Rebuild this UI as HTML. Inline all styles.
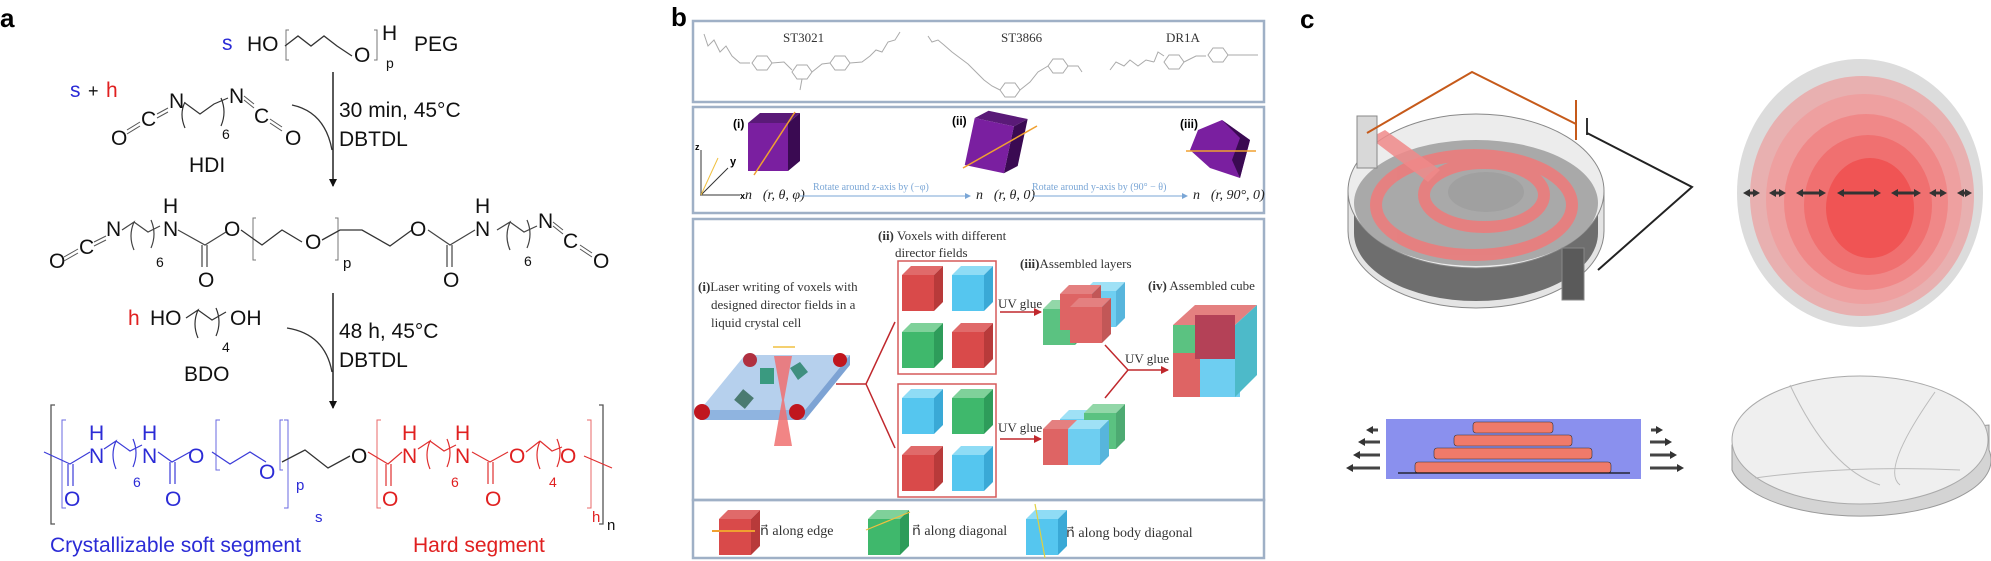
<!DOCTYPE html>
<html><head><meta charset="utf-8"><style>
html,body{margin:0;padding:0;background:#fff;}
svg{display:block;}
text{font-family:"Liberation Sans",sans-serif;}
.sf{font-family:"Liberation Serif",serif;}
</style></head><body>
<svg width="1991" height="561" viewBox="0 0 1991 561" xmlns="http://www.w3.org/2000/svg">
<defs>
<g id="cR"><polygon points="0,9 9,0 41,0 32,9" fill="#e06a6a"/><polygon points="32,9 41,0 41,36 32,45" fill="#b83a3a"/><rect x="0" y="9" width="32" height="36" fill="#d94a4a"/></g>
<g id="cB"><polygon points="0,9 9,0 41,0 32,9" fill="#8fdcf5"/><polygon points="32,9 41,0 41,36 32,45" fill="#3aa9d6"/><rect x="0" y="9" width="32" height="36" fill="#55c6ef"/></g>
<g id="cG"><polygon points="0,9 9,0 41,0 32,9" fill="#7fd19a"/><polygon points="32,9 41,0 41,36 32,45" fill="#2e9c5a"/><rect x="0" y="9" width="32" height="36" fill="#3fb86c"/></g>
<g id="cP"><polygon points="0,10 12,0 52,0 40,10" fill="#5a1a78"/><polygon points="40,10 52,0 52,48 40,58" fill="#3a0a52"/><rect x="0" y="10" width="40" height="48" fill="#7a1fa0"/></g>
<marker id="ah" markerWidth="8" markerHeight="8" refX="7" refY="4" orient="auto" markerUnits="userSpaceOnUse"><path d="M0,0 L8,4 L0,8 Z" fill="#111"/></marker>
<marker id="ahr" markerWidth="8" markerHeight="8" refX="7" refY="4" orient="auto" markerUnits="userSpaceOnUse"><path d="M0,0 L8,4 L0,8 Z" fill="#c0282d"/></marker>
<marker id="ahb" markerWidth="6" markerHeight="6" refX="5" refY="3" orient="auto" markerUnits="userSpaceOnUse"><path d="M0,0 L6,3 L0,6 Z" fill="#7aa6d6"/></marker>
<marker id="ahg" markerWidth="7" markerHeight="8" refX="3" refY="4" orient="auto-start-reverse" markerUnits="userSpaceOnUse"><path d="M0,0 L7,4 L0,8 Z" fill="#333"/></marker>
</defs>

<!-- ================= PANEL A ================= -->
<text x="0" y="27" font-size="26" font-weight="bold">a</text>
<g font-size="21" fill="#111">
<text x="222" y="50" fill="#2b2bd6">s</text>
<text x="247" y="51">HO</text>
<path d="M289,30 h-3 v30 h3 M374,30 h3 v30 h-3" stroke="#777" fill="none"/>
<polyline points="285,46 298,36 311,46 324,36 337,46 352,56" stroke="#333" fill="none" stroke-width="1.3"/>
<text x="354" y="62">O</text>
<text x="382" y="40">H</text>
<text x="386" y="68" font-size="14">p</text>
<text x="414" y="51">PEG</text>

<text x="70" y="97" fill="#2b2bd6">s</text><text x="88" y="97" font-size="18">+</text><text x="106" y="97" fill="#e02020">h</text>
<text x="111" y="145">O</text><text x="141" y="126">C</text><text x="169" y="108">N</text>
<text x="229" y="103">N</text><text x="254" y="123">C</text><text x="285" y="145">O</text>
<text x="222" y="139" font-size="14">6</text>
<path d="M127,134 l13,-8 M127,130 l13,-8 M157,118 l11,-6 M157,114 l11,-6 M244,100 l10,8 M244,96 l10,8 M270,123 l12,8 M270,119 l12,8" stroke="#555" fill="none"/>
<path d="M185,102 q-6,12 0,26 M221,98 q6,14 0,28 M185,103 L200,114 L214,104 L228,98" stroke="#333" fill="none" stroke-width="1.2"/>
<text x="189" y="172">HDI</text>
<path d="M292,105 Q325,112 332,150" stroke="#333" fill="none" stroke-width="1.3"/>
<line x1="333" y1="72" x2="333" y2="186" stroke="#222" stroke-width="1.5" marker-end="url(#ah)"/>
<text x="339" y="117">30 min, 45°C</text>
<text x="339" y="146">DBTDL</text>

<text x="49" y="268">O</text><text x="79" y="254">C</text><text x="106" y="236">N</text>
<text x="163" y="213">H</text><text x="163" y="236">N</text><text x="156" y="267" font-size="14">6</text>
<path d="M64,261 l14,-8 M64,257 l14,-8 M94,246 l12,-6 M94,242 l12,-6" stroke="#555" fill="none"/>
<path d="M122,230 L134,222 q-6,14 0,28 M134,222 L148,232 L160,226 M151,220 q6,14 0,28 M178,230 L205,245 L226,232 M202,245 v22 M207,245 v22" stroke="#444" fill="none" stroke-width="1.2"/>
<text x="198" y="287">O</text>
<text x="224" y="236">O</text>
<path d="M256,218 h-3 v42 h3 M335,218 h3 v42 h-3" stroke="#777" fill="none"/>
<polyline points="241,230 262,245 282,230 302,242" stroke="#333" fill="none" stroke-width="1.3"/>
<text x="305" y="249">O</text>
<text x="343" y="268" font-size="15">p</text>
<polyline points="322,240 340,230 362,230 390,246 412,230" stroke="#333" fill="none" stroke-width="1.3"/>
<text x="410" y="236">O</text>
<path d="M428,230 L450,245 L475,230 M447,245 v22 M452,245 v22 M497,230 L510,222 q-6,14 0,28 M510,222 L524,232 L537,226 M527,220 q6,14 0,28" stroke="#444" fill="none" stroke-width="1.2"/>
<text x="443" y="287">O</text>
<text x="475" y="213">H</text><text x="475" y="236">N</text><text x="524" y="266" font-size="14">6</text>
<text x="538" y="228">N</text><text x="563" y="248">C</text><text x="593" y="268">O</text>
<path d="M553,226 l10,8 M553,222 l10,8 M580,249 l12,8 M580,245 l12,8" stroke="#555" fill="none"/>

<text x="128" y="325" fill="#e02020">h</text>
<text x="150" y="325">HO</text><text x="230" y="325">OH</text>
<path d="M186,318 L198,310 q-6,14 0,28 M198,310 L212,320 L226,312 M216,308 q6,14 0,28" stroke="#333" fill="none" stroke-width="1.2"/>
<text x="222" y="352" font-size="14">4</text>
<text x="184" y="381">BDO</text>
<path d="M287,328 Q325,334 332,372" stroke="#333" fill="none" stroke-width="1.3"/>
<line x1="333" y1="293" x2="333" y2="408" stroke="#222" stroke-width="1.5" marker-end="url(#ah)"/>
<text x="339" y="338">48 h, 45°C</text>
<text x="339" y="367">DBTDL</text>

<path d="M55,405 h-4 v119 h4 M599,405 h4 v119 h-4" stroke="#555" fill="none" stroke-width="1.3"/>
<g fill="#2b2bd6">
<path d="M66,420 h-4 v88 h4 M284,420 h4 v88 h-4 M220,420 h-4 v50 h4 M283,420 h-3 v50 h3" stroke="#6a6ae0" fill="none"/>
<path d="M44,452 L70,464 L90,452 M68,464 v22 M73,464 v22 M104,449 L116,441 q-6,14 0,28 M116,441 L130,451 L142,445 M133,439 q6,14 0,28 M158,452 L172,462 L190,452 M170,462 v22 M175,462 v22 M212,452 L230,464 L250,452 L266,462" stroke="#3b3bd8" fill="none" stroke-width="1.2"/>
<text x="89" y="440">H</text><text x="89" y="463">N</text>
<text x="142" y="440">H</text><text x="142" y="463">N</text>
<text x="64" y="506">O</text><text x="165" y="506">O</text>
<text x="133" y="487" font-size="14">6</text>
<text x="188" y="463">O</text>
<text x="259" y="479">O</text>
<text x="296" y="490" font-size="15">p</text>
<text x="315" y="522" font-size="15">s</text>
</g>
<polyline points="282,462 305,450 328,468 350,456" stroke="#333" fill="none" stroke-width="1.3"/>
<text x="351" y="463">O</text>
<g fill="#e02020">
<path d="M381,420 h-4 v88 h4 M587,420 h4 v88 h-4" stroke="#e86a6a" fill="none"/>
<path d="M368,452 L388,464 L402,452 M386,464 v22 M391,464 v22 M418,449 L430,441 q-6,14 0,28 M430,441 L444,451 L456,445 M447,439 q6,14 0,28 M472,452 L490,462 L508,452 M488,462 v22 M493,462 v22 M526,452 L540,441 q-6,14 0,28 M540,441 L552,451 L562,447 M557,439 q6,14 0,28 M584,456 L612,468" stroke="#e03030" fill="none" stroke-width="1.2"/>
<text x="402" y="440">H</text><text x="402" y="463">N</text>
<text x="455" y="440">H</text><text x="455" y="463">N</text>
<text x="382" y="506">O</text><text x="485" y="506">O</text>
<text x="451" y="487" font-size="14">6</text>
<text x="509" y="463">O</text>
<text x="560" y="463">O</text>
<text x="549" y="487" font-size="14">4</text>
<text x="592" y="522" font-size="15">h</text>
</g>
<text x="607" y="530" font-size="15">n</text>
<text x="50" y="552" fill="#2b2bd6">Crystallizable soft segment</text>
<text x="413" y="552" fill="#e02020">Hard segment</text>
</g>

<!-- ================= PANEL B ================= -->
<text x="671" y="26" font-size="26" font-weight="bold">b</text>
<g fill="none" stroke="#9fb0c6" stroke-width="2.5">
<rect x="693" y="21" width="571" height="81"/>
<rect x="693" y="107" width="571" height="106"/>
<rect x="693" y="219" width="571" height="281"/>
<rect x="693" y="500" width="571" height="58"/>
</g>
<g class="sf" font-size="13" fill="#333">
<text x="783" y="42" class="sf">ST3021</text>
<text x="1001" y="42" class="sf">ST3866</text>
<text x="1166" y="42" class="sf">DR1A</text>
</g>
<g stroke="#aaa" fill="none" stroke-width="1">
<polyline points="704,34 708,46 714,40 720,52 726,46 732,56 740,63 750,63"/>
<polygon points="752,63 757,56 767,56 772,63 767,70 757,70"/>
<polyline points="772,63 784,62 792,70"/>
<polygon points="792,72 797,65 807,65 812,72 807,79 797,79"/><line x1="802" y1="79" x2="800" y2="90"/>
<polyline points="812,72 822,64 830,63"/>
<polygon points="830,63 835,56 845,56 850,63 845,70 835,70"/>
<polyline points="850,63 862,62 870,56 876,50 882,52 888,42 895,40 900,32"/>
<polyline points="928,36 932,42 938,40 944,45 952,52 960,58 968,64 976,72 984,80 992,86 1000,90"/>
<polygon points="1000,90 1005,83 1015,83 1020,90 1015,97 1005,97"/>
<polyline points="1020,90 1030,82 1038,72 1048,66"/>
<polygon points="1048,66 1053,59 1063,59 1068,66 1063,73 1053,73"/>
<polyline points="1068,66 1078,66 1082,72"/>
<polyline points="1110,70 1116,62 1124,66 1130,60 1138,66 1146,60 1154,62"/>
<polyline points="1154,62 1158,52 1164,56"/>
<polygon points="1164,62 1169,55 1179,55 1184,62 1179,69 1169,69"/>
<polyline points="1184,62 1196,56 1206,56"/>
<polygon points="1208,55 1213,48 1223,48 1228,55 1223,62 1213,62"/>
<line x1="1228" y1="55" x2="1258" y2="55"/>
</g>
<g>
<line x1="700" y1="195" x2="740" y2="195" stroke="#333"/><line x1="701" y1="195" x2="701" y2="150" stroke="#333"/>
<line x1="701" y1="195" x2="728" y2="168" stroke="#333"/>
<line x1="701" y1="195" x2="718" y2="158" stroke="#f0c040"/>
<text x="695" y="150" font-size="9" font-weight="bold">z</text><text x="730" y="165" font-size="11" font-weight="bold">y</text><text x="740" y="199" font-size="9" font-weight="bold">x</text>
<text x="733" y="128" font-size="12" font-weight="bold">(i)</text>
<use href="#cP" x="748" y="113"/>
<line x1="754" y1="175" x2="795" y2="112" stroke="#f0a030" stroke-width="1.5"/>
<text x="952" y="125" font-size="12" font-weight="bold">(ii)</text>
<g transform="translate(970,113) rotate(12 26 30)"><use href="#cP"/></g>
<line x1="963" y1="168" x2="1037" y2="126" stroke="#f0a030" stroke-width="1.5"/>
<text x="1180" y="128" font-size="12" font-weight="bold">(iii)</text>
<polygon points="1198,130 1222,120 1250,140 1240,178 1210,168 1190,150" fill="#7a1fa0"/>
<polygon points="1222,120 1250,140 1240,178 1232,160 1240,138" fill="#3a0a52"/>
<line x1="1186" y1="151" x2="1256" y2="151" stroke="#f0a030" stroke-width="1.5"/>
<g class="sf" font-size="14" fill="#222">
<text x="745" y="199" class="sf" font-style="italic">n⃗(r, θ, φ)</text>
<text x="976" y="199" class="sf" font-style="italic">n⃗(r, θ, 0)</text>
<text x="1193" y="199" class="sf" font-style="italic">n⃗(r, 90°, 0)</text>
</g>
<line x1="800" y1="196" x2="970" y2="196" stroke="#7aa6d6" marker-end="url(#ahb)"/>
<line x1="1033" y1="196" x2="1187" y2="196" stroke="#7aa6d6" marker-end="url(#ahb)"/>
<text x="813" y="190" class="sf" font-size="10" fill="#7aa6d6">Rotate around z-axis by (−φ)</text>
<text x="1032" y="190" class="sf" font-size="10" fill="#7aa6d6">Rotate around y-axis by (90° − θ)</text>
</g>
<g class="sf" font-size="13" fill="#333">
<text x="878" y="240" class="sf"><tspan font-weight="bold">(ii)</tspan> Voxels with different</text>
<text x="895" y="257" class="sf">director fields</text>
<text x="1020" y="268" class="sf"><tspan font-weight="bold">(iii)</tspan>Assembled layers</text>
<text x="1148" y="290" class="sf"><tspan font-weight="bold">(iv)</tspan> Assembled cube</text>
<text x="698" y="291" class="sf"><tspan font-weight="bold">(i)</tspan>Laser writing of voxels with</text>
<text x="711" y="309" class="sf">designed director fields in a</text>
<text x="711" y="327" class="sf">liquid crystal cell</text>
<text x="998" y="308" class="sf">UV glue</text>
<text x="998" y="432" class="sf">UV glue</text>
<text x="1125" y="363" class="sf">UV glue</text>
</g>
<polygon points="700,410 745,355 850,355 805,410" fill="#a9c8ea" opacity="0.85"/>
<polygon points="700,410 805,410 805,420 700,420" fill="#8fb4e0"/>
<polygon points="805,410 850,355 850,365 805,420" fill="#7da3d4"/>
<circle cx="702" cy="412" r="8" fill="#c0161e"/><circle cx="797" cy="412" r="8" fill="#c0161e"/>
<circle cx="750" cy="360" r="7" fill="#b03040"/><circle cx="840" cy="360" r="7" fill="#c0161e"/>
<rect x="760" y="368" width="14" height="16" fill="#3a9a80"/><rect x="737" y="392" width="14" height="14" fill="#4a7a70" transform="rotate(40 744 399)"/>
<polygon points="790,368 800,362 808,372 798,380" fill="#3f8f7f"/>
<polygon points="774,356 792,356 784,400 792,446 774,446 782,400" fill="#f07070" opacity="0.85"/>
<line x1="773" y1="347" x2="795" y2="347" stroke="#f0c040" stroke-width="1.5"/>
<path d="M836,384 H866 L895,322 M866,384 L895,448" stroke="#c0282d" stroke-width="1.5" fill="none"/>
<rect x="898" y="261" width="98" height="113" fill="none" stroke="#d65a5a" stroke-width="1.5"/>
<rect x="898" y="384" width="98" height="113" fill="none" stroke="#d65a5a" stroke-width="1.5"/>
<use href="#cR" x="902" y="266"/><use href="#cB" x="952" y="266"/>
<use href="#cG" x="902" y="323"/><use href="#cR" x="952" y="323"/>
<use href="#cB" x="902" y="389"/><use href="#cG" x="952" y="389"/>
<use href="#cR" x="902" y="446"/><use href="#cB" x="952" y="446"/>
<line x1="1000" y1="312" x2="1041" y2="312" stroke="#c0282d" stroke-width="1.5" marker-end="url(#ahr)"/>
<line x1="1000" y1="439" x2="1041" y2="439" stroke="#c0282d" stroke-width="1.5" marker-end="url(#ahr)"/>
<g opacity="0.85">
<use href="#cG" x="1043" y="300"/><use href="#cB" x="1084" y="282"/><use href="#cR" x="1060" y="285"/><use href="#cR" x="1070" y="298"/>
<use href="#cB" x="1060" y="410"/><use href="#cG" x="1084" y="404"/><use href="#cR" x="1043" y="420"/><use href="#cB" x="1068" y="420"/>
</g>
<path d="M1105,345 L1128,370 L1105,398 M1128,370 H1168" stroke="#c0282d" stroke-width="1.5" fill="none" marker-end="url(#ahr)"/>
<g opacity="0.85">
<rect x="1173" y="350" width="40" height="47" fill="#d94a4a"/><rect x="1200" y="350" width="40" height="47" fill="#55c6ef"/>
<polygon points="1173,325 1195,305 1257,305 1235,325" fill="#e06a6a"/>
<rect x="1173" y="325" width="62" height="28" fill="#3fb86c"/>
<polygon points="1235,325 1257,305 1257,375 1235,397" fill="#2eaec0"/>
<rect x="1195" y="315" width="40" height="44" fill="#a8203a"/>
</g>
<use href="#cR" x="719" y="510"/><line x1="712" y1="531" x2="755" y2="531" stroke="#f0a030" stroke-width="2"/>
<use href="#cG" x="868" y="510"/><line x1="866" y1="530" x2="910" y2="512" stroke="#f0c040" stroke-width="1.2"/>
<use href="#cB" x="1026" y="510"/><line x1="1035" y1="504" x2="1045" y2="558" stroke="#e0d040" stroke-width="1.2"/>
<g class="sf" font-size="14" fill="#333">
<text x="760" y="535" class="sf">n⃗ along edge</text>
<text x="912" y="535" class="sf">n⃗ along diagonal</text>
<text x="1066" y="537" class="sf">n⃗ along body diagonal</text>
</g>

<!-- ================= PANEL C ================= -->
<text x="1300" y="28" font-size="26" font-weight="bold">c</text>
<path d="M1348,191 v40 a128,77 0 0 0 256,0 v-40 z" fill="#e4e4e4" stroke="#888"/>
<path d="M1354,205 v28 a122,68 0 0 0 244,0 v-28 z" fill="#6e6e6e"/>
<ellipse cx="1476" cy="191" rx="128" ry="77" fill="#ececec" stroke="#888"/>
<ellipse cx="1476" cy="203" rx="122" ry="63" fill="#a9a9a9"/>
<g fill="none" stroke="#f07a7a" stroke-width="12" opacity="0.85">
<ellipse cx="1474" cy="205" rx="98" ry="50"/>
<ellipse cx="1484" cy="195" rx="60" ry="32"/>
</g>
<ellipse cx="1486" cy="192" rx="38" ry="20" fill="#a0a0a0"/>
<polygon points="1370,138 1385,130 1440,170 1428,182" fill="#f08a8a" opacity="0.85"/>
<rect x="1357" y="116" width="20" height="52" fill="#d8d8d8" stroke="#888"/>
<rect x="1562" y="248" width="22" height="52" fill="#5a5a5a" stroke="#888"/>
<polyline points="1367,133 1472,72 1576,124" stroke="#c65a1a" stroke-width="2" fill="none"/>
<line x1="1576" y1="100" x2="1576" y2="140" stroke="#c65a1a" stroke-width="2"/>
<line x1="1587" y1="118" x2="1587" y2="135" stroke="#333" stroke-width="2"/>
<polyline points="1587,133 1692,187 1598,270" stroke="#222" stroke-width="2" fill="none"/>
<ellipse cx="1860" cy="193" rx="123" ry="134" fill="#dcdcdc"/>
<ellipse cx="1862" cy="196" rx="112" ry="120" fill="#e8b0b0"/>
<ellipse cx="1864" cy="199" rx="98" ry="105" fill="#eea0a0"/>
<ellipse cx="1866" cy="202" rx="82" ry="88" fill="#f08888"/>
<ellipse cx="1868" cy="205" rx="64" ry="70" fill="#f07070"/>
<ellipse cx="1870" cy="208" rx="44" ry="50" fill="#f05454"/>
<g stroke="#333" stroke-width="3" fill="none" marker-start="url(#ahg)" marker-end="url(#ahg)">
<line x1="1747" y1="193" x2="1756" y2="193"/><line x1="1773" y1="193" x2="1782" y2="193"/>
<line x1="1800" y1="193" x2="1822" y2="193"/><line x1="1841" y1="193" x2="1877" y2="193"/>
<line x1="1895" y1="193" x2="1917" y2="193"/><line x1="1933" y1="193" x2="1943" y2="193"/><line x1="1961" y1="193" x2="1968" y2="193"/>
</g>
<rect x="1386" y="419" width="255" height="60" fill="#8a90ee"/>
<rect x="1415" y="462" width="196" height="11" rx="3" fill="#f07a6a" stroke="#333" stroke-width="0.6"/>
<rect x="1434" y="448" width="158" height="11" rx="3" fill="#f07a6a" stroke="#333" stroke-width="0.6"/>
<rect x="1454" y="435" width="118" height="11" rx="3" fill="#f07a6a" stroke="#333" stroke-width="0.6"/>
<rect x="1473" y="422" width="80" height="11" rx="3" fill="#f07a6a" stroke="#333" stroke-width="0.6"/>
<line x1="1398" y1="473" x2="1630" y2="473" stroke="#111" stroke-width="1.2"/>
<g stroke="#444" stroke-width="3" fill="#444">
<line x1="1350" y1="468" x2="1380" y2="468" marker-start="url(#ahg)"/><line x1="1357" y1="455" x2="1380" y2="455" marker-start="url(#ahg)"/><line x1="1362" y1="442" x2="1380" y2="442" marker-start="url(#ahg)"/><line x1="1370" y1="430" x2="1378" y2="430" marker-start="url(#ahg)"/>
<line x1="1650" y1="468" x2="1680" y2="468" marker-end="url(#ahg)"/><line x1="1650" y1="455" x2="1673" y2="455" marker-end="url(#ahg)"/><line x1="1650" y1="442" x2="1668" y2="442" marker-end="url(#ahg)"/><line x1="1651" y1="430" x2="1659" y2="430" marker-end="url(#ahg)"/>
</g>
<path d="M1732,445 v25 a128,55 0 0 0 257,-20 v-25 z" fill="#d4d4d4" stroke="#999"/>
<ellipse cx="1860" cy="440" rx="128" ry="64" fill="#efefef" stroke="#aaa"/>
<path d="M1790,385 Q1830,470 1880,485 M1935,392 Q1880,470 1900,485 M1755,478 Q1850,465 1960,470" stroke="#bbb" fill="none"/>
</svg>
</body></html>
